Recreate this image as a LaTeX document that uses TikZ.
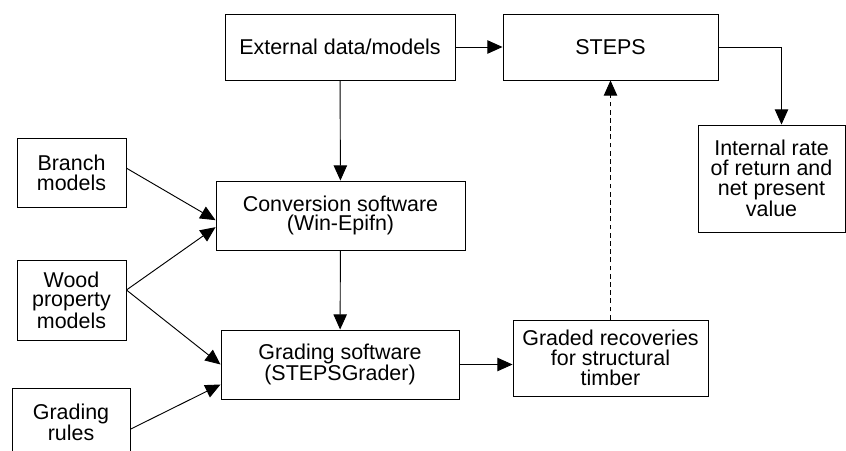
\documentclass[tikz,border=0pt]{standalone}
\usepackage{fontspec}
\setmainfont{Liberation Sans}
\usetikzlibrary{arrows.meta}

\begin{document}
\begin{tikzpicture}[line width=0.8pt, >={Triangle[length=13pt,width=11.5pt]},
    box/.style={draw, align=center, inner sep=2pt,
      font=\fontsize{18.3}{16.8}\selectfont},
    flowline/.style={->}]
      \useasboundingbox (0,0) rectangle (25.38,13.5);
      % top row
      \node[box, minimum width=6.9cm, minimum height=1.98cm] (ext) at (10.2,12.09) {External data/models};
      \node[box, minimum width=6.45cm, minimum height=1.98cm] (steps) at (18.315,12.09) {STEPS};
      \node[box, minimum width=4.41cm, minimum height=3.21cm] (irr) at (23.145,8.145) {Internal rate\\of return and\\net present\\value};
      % middle
      \node[box, minimum width=7.47cm, minimum height=2.07cm] (conv) at (10.215,7.035) {Conversion software\\(Win-Epifn)};
      \node[box, minimum width=7.14cm, minimum height=2.07cm] (grad) at (10.2,2.565) {Grading software\\(STEPSGrader)};
      \node[box, minimum width=5.85cm, minimum height=2.28cm] (rec) at (18.315,2.76) {Graded recoveries\\for structural\\timber};
      % inputs on the left
      \node[box, minimum width=3.27cm, minimum height=2.07cm] (branch) at (2.145,8.325) {Branch\\models};
      \node[box, minimum width=3.27cm, minimum height=2.4cm] (wood) at (2.145,4.5) {Wood\\property\\models};
      \node[box, minimum width=3.54cm, minimum height=2.07cm] (rules) at (2.13,0.825) {Grading\\rules};
      \coordinate (woodout) at ([yshift=0.3cm]wood.east);
      % connectors
      \draw[flowline] (ext) -- (steps);
      \draw[flowline] (steps.east) -| ([xshift=3mm]irr.north);
      \draw[flowline] (ext) -- (conv);
      \draw[flowline] (conv) -- (grad);
      \draw[flowline] (grad.east) -- (rec.west |- grad.east);
      \draw[flowline, dash pattern=on 4pt off 3pt] (rec) -- (steps);
      \draw[flowline] ([yshift=1.3mm]branch.east) -- ([yshift=-1.4mm]conv.west);
      \draw[flowline] (woodout) -- ([yshift=-3.5mm]conv.west);
      \draw[flowline] (woodout) -- ([yshift=0.0mm]grad.west);
      \draw[flowline] ([yshift=-2mm]rules.east) -- ([yshift=-6mm]grad.west);
\end{tikzpicture}
\end{document}
